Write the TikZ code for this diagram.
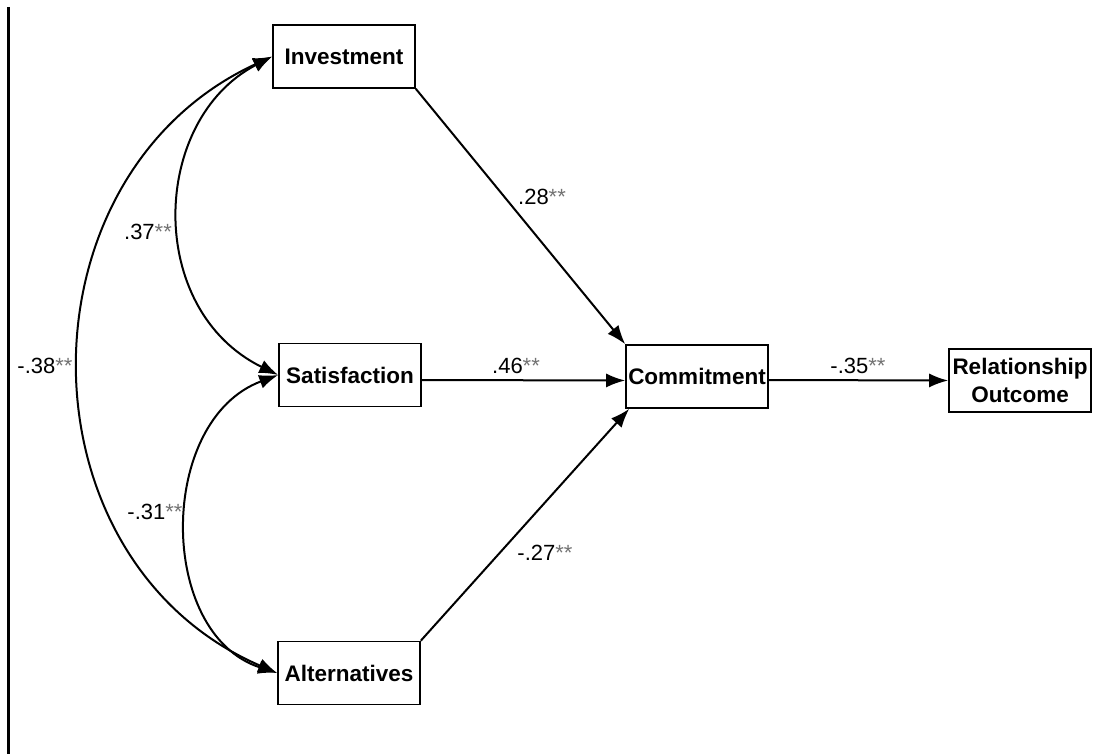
\documentclass[tikz,border=0pt]{standalone}
\usepackage{fontspec}
\setmainfont{Liberation Sans}
\usetikzlibrary{arrows.meta}
\newcommand\sigstars{\textcolor{black!55}{**}}
\begin{document}
\begin{tikzpicture}[x=1pt,y=-1pt,
  box/.style={draw, line width=1.6pt, minimum width=142pt, minimum height=63pt, inner sep=0pt,
              font=\fontsize{22.5}{28}\selectfont\bfseries, align=center},
  conn/.style={line width=2pt, -{Latex[length=19pt,width=14pt]}},
  cov/.style={line width=2pt, {Latex[length=19pt,width=14pt]}-{Latex[length=19pt,width=14pt]}},
  coef/.style={font=\fontsize{22}{22}\selectfont, inner sep=0pt}]
\useasboundingbox (0,0) rectangle (1109,754);
\draw[line width=3pt] (8,7) -- (8,754);
\node[box] (inv) at (344,56.5) {Investment};
\node[box] (sat) at (350,375) {Satisfaction};
\node[box] (alt) at (349,673) {Alternatives};
\node[box] (com) at (697,376.5) {Commitment};
\node[box] (ro) at (1020,380.5) {Relationship\\Outcome};
\draw[cov] (inv.west) .. controls (150,120) and (145,310) .. (sat.west);
\draw[cov] (inv.west) .. controls (15,175) and (15,560) .. (alt.west);
\draw[cov] (sat.west) .. controls (157,420) and (157,634) .. (alt.west);
\draw[conn] (inv.south east) -- (com.north west);
\draw[conn] ([yshift=-5pt]sat.east) -- ([yshift=-4pt]com.west);
\draw[conn] (alt.north east) -- ([xshift=4pt]com.south west);
\draw[conn] ([yshift=-3.5pt]com.east) -- (ro.west);
\node[coef] (l37) at (148,232) {.37\sigstars};
\node[coef] (l38) at (45,366) {-.38\sigstars};
\node[coef] (l31) at (155,512) {-.31\sigstars};
\node[coef] (l28) at (542,197) {.28\sigstars};
\node[coef] (l46) at (516,366) {.46\sigstars};
\node[coef] (l27) at (545,553) {-.27\sigstars};
\node[coef] (l35) at (858,366) {-.35\sigstars};
\end{tikzpicture}
\end{document}
